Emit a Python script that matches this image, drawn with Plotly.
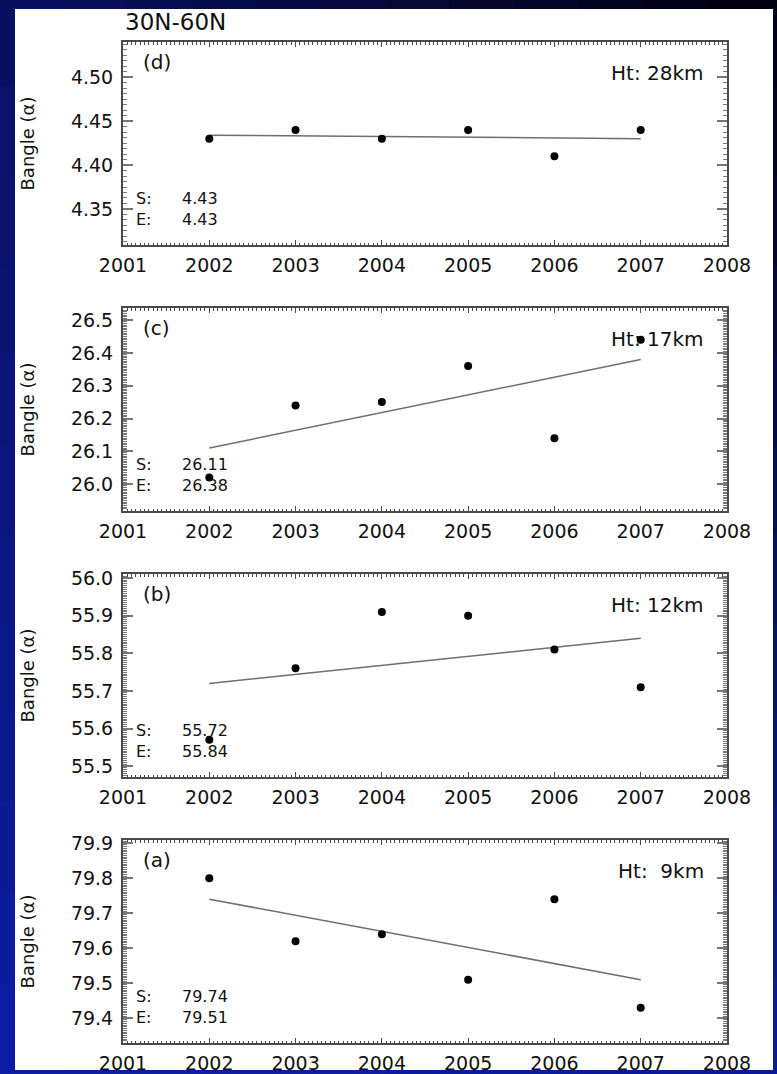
import plotly.graph_objects as go

# ---------------- data ----------------
years = [2002, 2003, 2004, 2005, 2006, 2007]
bangle_9km = [79.80, 79.62, 79.64, 79.51, 79.74, 79.43]
bangle_12km = [55.57, 55.76, 55.91, 55.90, 55.81, 55.71]
bangle_17km = [26.02, 26.24, 26.25, 26.36, 26.14, 26.44]
bangle_28km = [4.43, 4.44, 4.43, 4.44, 4.41, 4.44]

trend_years = [2002, 2007]
trend_start = [79.74, 55.72, 26.11, 4.434]
trend_end = [79.51, 55.84, 26.38, 4.430]

panel_letters = ["(a)", "(b)", "(c)", "(d)"]
height_labels = ["Ht:\u00a0\u00a09km", "Ht: 12km", "Ht: 17km", "Ht: 28km"]
x_tick_years = [2001, 2002, 2003, 2004, 2005, 2006, 2007, 2008]
title_text = "30N-60N"
y_title = "Bangle (α)"

series = [bangle_9km, bangle_12km, bangle_17km, bangle_28km]

# ---------------- layout geometry (pixels) ----------------
W, H = 777, 1074
x_left, x_right = 123, 727
panel_tops = [840, 574, 308, 42]      # a, b, c, d
panel_h = 203
y_ranges = [[79.329, 79.909], [55.471, 56.011], [25.918, 26.537], [4.309, 4.540]]
y_dticks = [0.1, 0.1, 0.1, 0.05]
y_tick0 = [79.4, 55.5, 26.0, 4.35]
y_minor = [0.005, 0.005, 0.005, 0.00625]
y_fmt = [".1f", ".1f", ".1f", ".2f"]

FONT = "DejaVu Sans"
TICKFONT = dict(family=FONT, size=19, color="#111")
AXCOL = "#4a4a4a"

fig = go.Figure()
annotations = []

for i in range(4):
    n = "" if i == 0 else str(i + 1)
    xa, ya = "x" + n, "y" + n
    top = panel_tops[i]
    bot = top + panel_h
    ydom = [1 - bot / H, 1 - top / H]

    fig.add_trace(go.Scatter(
        x=trend_years, y=[trend_start[i], trend_end[i]], mode="lines",
        line=dict(color="#6e6e6e", width=1.5), xaxis=xa, yaxis=ya, showlegend=False))
    fig.add_trace(go.Scatter(
        x=years, y=series[i], mode="markers",
        marker=dict(color="black", size=8), xaxis=xa, yaxis=ya, showlegend=False))

    fig.layout["xaxis" + n] = dict(
        domain=[x_left / W, x_right / W], anchor=ya, range=[2001, 2008], automargin=False,
        tickmode="array", tickvals=x_tick_years, ticktext=[str(v) for v in x_tick_years],
        ticks="inside", ticklen=5, tickwidth=1, tickcolor=AXCOL,
        minor=dict(dtick=0.05, ticks="inside", ticklen=2.5, tickcolor=AXCOL, tickwidth=1),
        showline=True, linecolor=AXCOL, linewidth=2, mirror="allticks",
        showgrid=False, zeroline=False, tickfont=TICKFONT, ticklabelstandoff=2)
    fig.layout["yaxis" + n] = dict(
        domain=ydom, anchor=xa, range=y_ranges[i], automargin=False,
        tick0=y_tick0[i], dtick=y_dticks[i], tickformat=y_fmt[i],
        ticks="inside", ticklen=10, tickwidth=1.5, tickcolor="#777",
        minor=dict(dtick=y_minor[i], ticks="inside", ticklen=4, tickcolor="#777", tickwidth=1),
        showline=True, linecolor=AXCOL, linewidth=2, mirror="allticks",
        showgrid=False, zeroline=False, tickfont=TICKFONT, ticklabelstandoff=4)

    xd, yd = xa + " domain", ya + " domain"
    se_y = 1 - 167 / panel_h
    annotations += [
        dict(text=panel_letters[i], xref=xd, yref=yd, x=(141 - x_left) / 604,
             y=1 - 20 / panel_h, xanchor="left", yanchor="middle", showarrow=False,
             font=dict(family=FONT, size=20, color="#111")),
        dict(text=height_labels[i], xref=xd, yref=yd, x=(706 - x_left) / 604,
             y=1 - 31 / panel_h, xanchor="right", yanchor="middle", showarrow=False,
             font=dict(family=FONT, size=20, color="#111")),
        dict(text="S:<br>E:", xref=xd, yref=yd, x=(134 - x_left) / 604,
             y=se_y, xanchor="left", yanchor="middle", align="left", showarrow=False,
             font=dict(family=FONT, size=16, color="#111")),
        dict(text=f"{trend_start[i]:.2f}<br>{trend_end[i]:.2f}", xref=xd, yref=yd,
             x=(180 - x_left) / 604, y=se_y, xanchor="left", yanchor="middle",
             align="left", showarrow=False,
             font=dict(family=FONT, size=16, color="#111")),
        dict(text=y_title, xref="paper", yref=yd, x=27 / W, y=0.5,
             xanchor="center", yanchor="middle", textangle=-90, showarrow=False,
             font=dict(family=FONT, size=18, color="#111")),
    ]

annotations.append(dict(text=title_text, xref="paper", yref="paper", x=x_left / W,
                        y=1 - 22 / H, xanchor="left", yanchor="middle", showarrow=False,
                        font=dict(family=FONT, size=23, color="#111")))

# ---------------- blue slide frame ----------------
def hex2rgb(h):
    return tuple(int(h[k:k + 2], 16) for k in (1, 3, 5))

def mix(c1, c2, t):
    a, b = hex2rgb(c1), hex2rgb(c2)
    return "rgb(%d,%d,%d)" % tuple(round(a[k] + (b[k] - a[k]) * t) for k in range(3))

shapes = []
wl, wr, wt, wb = 15, 773, 9, 1070
nseg = 12
ov = 3  # pixel overlap between segments to avoid seams
for s in range(nseg):
    y0p = max(0, s * H / nseg - ov)
    y1p = min(H, (s + 1) * H / nseg + ov)
    t = s / (nseg - 1)
    shapes.append(dict(type="rect", xref="paper", yref="paper", layer="above",
                       x0=0, x1=wl / W, y0=1 - y1p / H, y1=1 - y0p / H,
                       fillcolor=mix("#0a1060", "#0c1ca2", t), line=dict(width=0)))
    shapes.append(dict(type="rect", xref="paper", yref="paper", layer="above",
                       x0=wr / W, x1=1, y0=1 - y1p / H, y1=1 - y0p / H,
                       fillcolor=mix("#000018", "#0b1a9c", t), line=dict(width=0)))
for s in range(nseg):
    x0p = max(0, s * W / nseg - ov)
    x1p = min(W, (s + 1) * W / nseg + ov)
    t = s / (nseg - 1)
    shapes.append(dict(type="rect", xref="paper", yref="paper", layer="above",
                       x0=x0p / W, x1=x1p / W, y0=1 - wt / H, y1=1,
                       fillcolor=mix("#0a1060", "#000010", t), line=dict(width=0)))
    shapes.append(dict(type="rect", xref="paper", yref="paper", layer="above",
                       x0=x0p / W, x1=x1p / W, y0=0, y1=1 - wb / H,
                       fillcolor=mix("#0c1ca2", "#0b1a9c", t), line=dict(width=0)))

fig.update_layout(
    width=W, height=H, margin=dict(l=0, r=0, t=0, b=0, pad=0, autoexpand=False),
    paper_bgcolor="white", plot_bgcolor="white",
    annotations=annotations, shapes=shapes, showlegend=False,
    font=dict(family=FONT),
)

fig.write_html("out.html")
